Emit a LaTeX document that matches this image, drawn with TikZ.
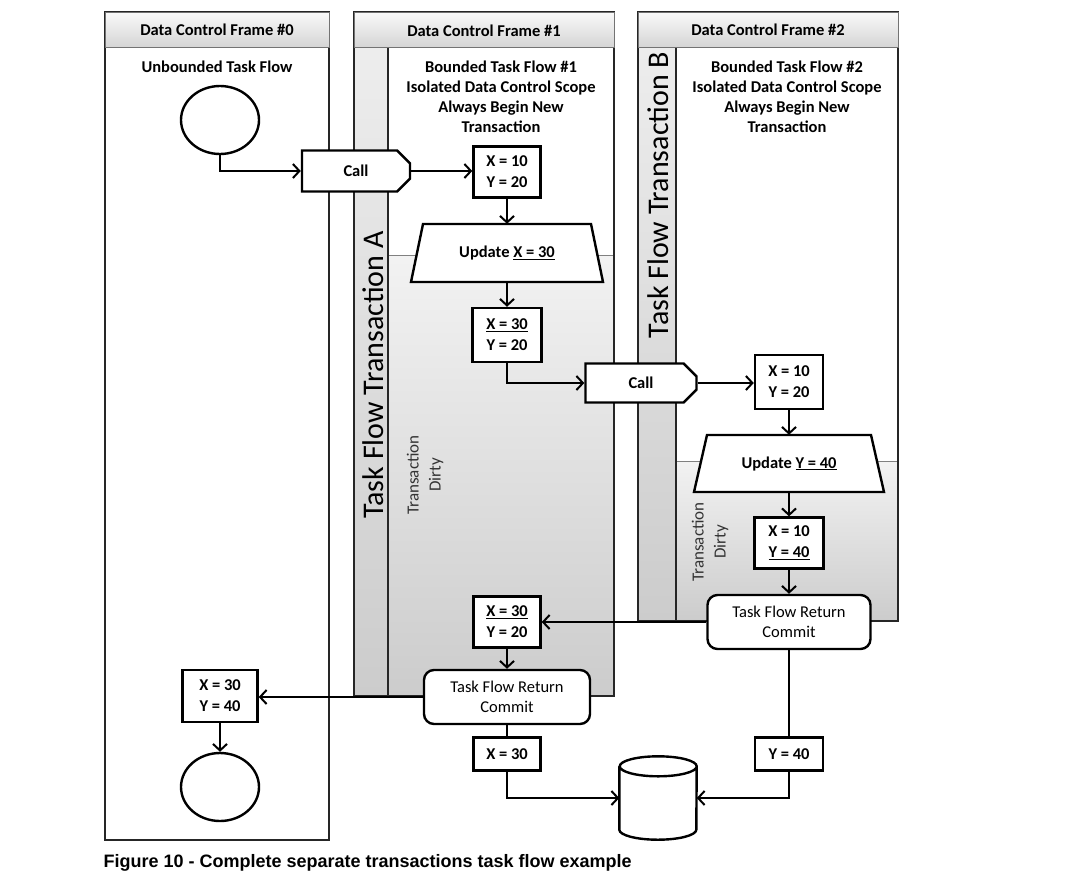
\documentclass[tikz,border=0pt]{standalone}
\usepackage{fontspec}
\setmainfont{Carlito}
\newfontfamily\capfont{Liberation Sans}
\usetikzlibrary{shapes.geometric,shapes.misc,arrows.meta}

\begin{document}
\begin{tikzpicture}[%
	x=1pt, y=1pt,
	font=\fontsize{16.5}{20}\selectfont,
	frame/.style={draw=black!85, line width=1.8pt},
	head/.style={draw=black!55, line width=1pt, top color=gray!4, bottom color=gray!33},
	lane/.style={top color=gray!14, bottom color=gray!40},
	dirty/.style={top color=gray!10, bottom color=gray!40},
	outline/.style={draw, line width=2.4pt, fill=white},
	box/.style={outline, minimum width=67pt, minimum height=51pt,
		inner sep=0pt, align=center, font=\fontsize{16.5}{21}\selectfont\bfseries},
	call/.style={box, chamfered rectangle, chamfered rectangle corners={north east,south east},
		chamfered rectangle sep=7pt},
	upd/.style={inner sep=0pt, font=\fontsize{16.5}{21}\selectfont\bfseries,
		minimum width=192pt, minimum height=58pt},
	ret/.style={outline, rounded corners=10pt, inner sep=0pt,
		align=center, minimum width=165pt, minimum height=54pt},
	term/.style={outline, ellipse, minimum width=78pt, minimum height=68pt},
	arr/.style={line width=2pt, -{Straight Barb[length=6.5pt,width=14pt,line width=2pt]}},
	link/.style={line width=2pt}]
	\useasboundingbox (0,0) rectangle (1075,-873);

	\draw[frame] (105,-12) rectangle (329,-840);
	\shade[head] (105,-12) rectangle (329,-47);

	\shade[lane] (354,-47) rectangle (388,-696);
	\shade[dirty] (388,-255) rectangle (614,-696);
	\draw[black!50] (388,-255) -- (614,-255);
	\draw[frame] (354,-12) rectangle (614,-696) (388,-47) -- (388,-696);
	\shade[head] (354,-12) rectangle (614,-47);

	\shade[lane] (638,-47) rectangle (676,-621);
	\shade[dirty] (676,-461) rectangle (898,-621);
	\draw[black!50] (676,-461) -- (898,-461);
	\draw[frame] (638,-12) rectangle (898,-621) (676,-47) -- (676,-621);
	\shade[head] (638,-12) rectangle (898,-47);

	\node[font=\fontsize{16.5}{20}\selectfont\bfseries] (head0) at (217,-30) {Data Control Frame \#0};
	\node[font=\fontsize{16.5}{20}\selectfont\bfseries] (head1) at (484,-31) {Data Control Frame \#1};
	\node[font=\fontsize{16.5}{20}\selectfont\bfseries] (head2) at (768,-30) {Data Control Frame \#2};
	\node[font=\fontsize{16.5}{20}\selectfont\bfseries] (title0) at (217,-67) {Unbounded Task Flow};
	\node[align=center, font=\fontsize{16.5}{20}\selectfont\bfseries] (title1) at (501,-97)
		{Bounded Task Flow \#1\\Isolated Data Control Scope\\Always Begin New\\Transaction};
	\node[align=center, font=\fontsize{16.5}{20}\selectfont\bfseries] (title2) at (787,-97)
		{Bounded Task Flow \#2\\Isolated Data Control Scope\\Always Begin New\\Transaction};
	\node[rotate=90, font=\fontsize{30}{31}\selectfont] (laneA) at (373,-375) {Task Flow Transaction A};
	\node[rotate=90, font=\fontsize{30}{31}\selectfont] (laneB) at (658,-195) {Task Flow Transaction B};
	\node[rotate=90, align=center, text=black!80, font=\fontsize{17}{22}\selectfont] (dirtyA) at (425,-475) {Transaction\\Dirty};
	\node[rotate=90, align=center, text=black!80, font=\fontsize{17}{22}\selectfont] (dirtyB) at (710,-542) {Transaction\\Dirty};

	\draw[outline] (423,-224) -- (591,-224) -- (603,-282) -- (411,-282) -- cycle;
	\draw[outline] (707,-435) -- (871,-435) -- (884,-492) -- (694,-492) -- cycle;

	\node[term] (start) at (220,-120) {};
	\node[call, minimum width=108pt, minimum height=41pt] (call1) at (356,-171) {Call};
	\node[box] (v1) at (507,-172) {X = 10\\Y = 20};
	\node[upd] (upd1) at (507,-253) {Update \underline{X = 30}};
	\node[box, minimum width=69pt, minimum height=54pt] (v2) at (507,-335) {\underline{X = 30}\\Y = 20};
	\node[call, minimum width=111pt, minimum height=39pt] (call2) at (641,-383) {Call};
	\node[box, minimum width=68pt, minimum height=54pt] (v3) at (789,-382) {X = 10\\Y = 20};
	\node[upd, minimum height=57pt] (upd2) at (789,-463.5) {Update \underline{Y = 40}};
	\node[box, minimum width=69pt] (v4) at (789,-543) {X = 10\\\underline{Y = 40}};
	\node[ret, minimum width=163pt] (ret2) at (789,-622) {Task Flow Return\\Commit};
	\node[box] (v5) at (507,-622) {\underline{X = 30}\\Y = 20};
	\node[ret, minimum width=166pt] (ret1) at (507,-697) {Task Flow Return\\Commit};
	\node[box, minimum width=75pt, minimum height=52pt] (v6) at (220,-696) {X = 30\\Y = 40};
	\node[term] (stop) at (220,-787) {};
	\node[box, minimum height=33pt] (x30) at (507,-754) {X = 30};
	\node[box, minimum width=68pt, minimum height=33pt] (y40) at (789,-754) {Y = 40};
	\node[minimum width=77pt, minimum height=83pt, inner sep=0pt] (db) at (658,-798) {};
	\draw[outline] ([yshift=-10pt]db.north west) -- ([yshift=10pt]db.south west)
		arc[start angle=180, end angle=360, x radius=38.5pt, y radius=10pt]
		-- ([yshift=-10pt]db.north east)
		arc[start angle=0, end angle=180, x radius=38.5pt, y radius=10pt]
		arc[start angle=180, end angle=360, x radius=38.5pt, y radius=10pt];

	\draw[arr] (start.south) |- (call1.west);
	\draw[arr] (call1.east) -- (call1.east -| v1.west);
	\draw[arr] (v1) -- (upd1);
	\draw[arr] (upd1) -- (v2);
	\draw[arr] (v2.south) |- (call2.west);
	\draw[arr] (call2.east) -- (call2.east -| v3.west);
	\draw[arr] (v3) -- (upd2);
	\draw[arr] (upd2) -- (v4);
	\draw[arr] (v4) -- (ret2);
	\draw[arr] (ret2.west) -- (ret2.west -| v5.east);
	\draw[arr] (v5) -- (ret1);
	\draw[arr] (ret1.west) -- (ret1.west -| v6.east);
	\draw[arr] (v6) -- (stop);
	\draw[link] (ret1) -- (x30);
	\draw[link] (ret2) -- (y40);
	\draw[arr] (x30.south) |- (db.west);
	\draw[arr] (y40.south) |- (db.east);

	\node[anchor=base west, font=\capfont\fontsize{18}{20}\selectfont\bfseries] (caption) at (100,-867)
		{Figure 10 - Complete separate transactions task flow example};
\end{tikzpicture}
\end{document}
